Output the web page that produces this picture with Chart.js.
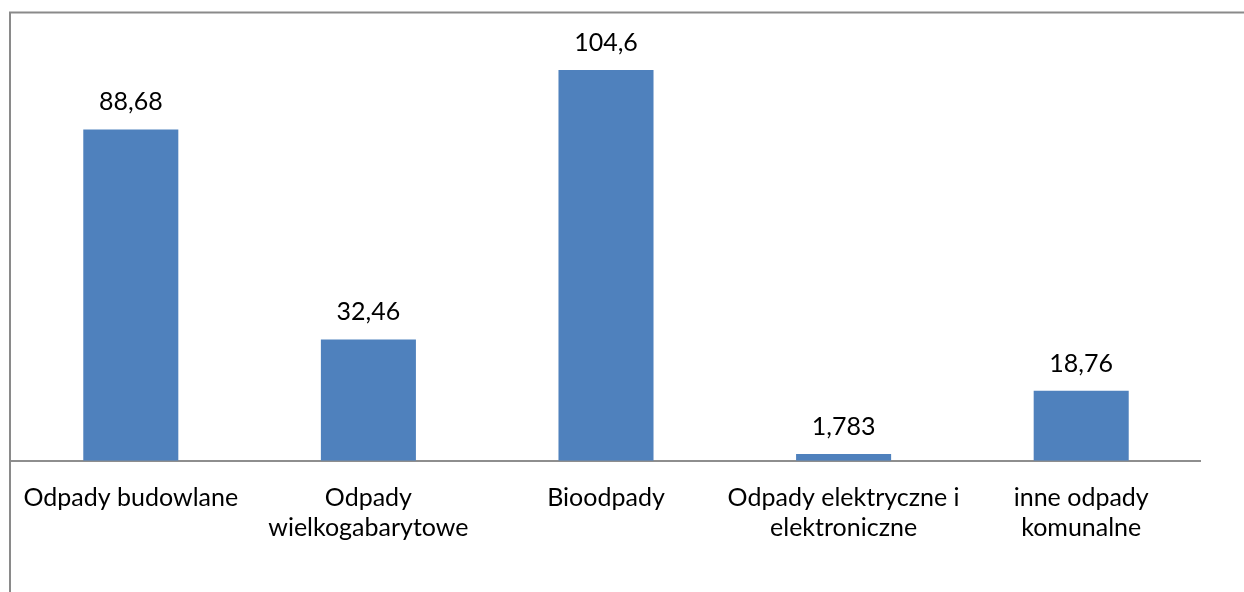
<!DOCTYPE html>
<html>
<head>
<meta charset="utf-8">
<script src="https://cdn.jsdelivr.net/npm/chart.js@4"></script>
<style>
  html, body { margin: 0; padding: 0; background: #fff; }
  #wrap { width: 1244px; height: 592px; position: relative; }
</style>
</head>
<body>
<div id="wrap"><canvas id="wasteChart"></canvas></div>
<script>
// === Data ===
const categories = [
  ["Odpady budowlane"],
  ["Odpady", "wielkogabarytowe"],
  ["Bioodpady"],
  ["Odpady elektryczne i", "elektroniczne"],
  ["inne odpady", "komunalne"]
];
const values = [88.68, 32.46, 104.6, 1.783, 18.76];
const yMax = 120;

const FONT = { family: "Lato, 'Noto Sans', sans-serif", size: 25 };

// === Outer frame (left + top visible) ===
const framePlugin = {
  id: "frame",
  beforeDraw(chart) {
    const ctx = chart.ctx;
    ctx.save();
    ctx.strokeStyle = "#8a8a8a";
    ctx.lineWidth = 2;
    ctx.strokeRect(10, 12.5, 2000, 2000);
    ctx.restore();
  }
};

// === Value labels above bars ===
const valueLabels = {
  id: "valueLabels",
  afterDatasetsDraw(chart) {
    const ctx = chart.ctx;
    const meta = chart.getDatasetMeta(0);
    ctx.save();
    ctx.font = `${FONT.size}px ${FONT.family}`;
    ctx.fillStyle = "#000";
    ctx.textAlign = "center";
    ctx.textBaseline = "alphabetic";
    meta.data.forEach((bar, i) => {
      const txt = String(values[i]).replace(".", ",");
      ctx.fillText(txt, bar.x, bar.y - 19);
    });
    ctx.restore();
  }
};

const ctx = document.getElementById("wasteChart").getContext("2d");
new Chart(ctx, {
  type: "bar",
  data: {
    labels: categories,
    datasets: [{
      data: values,
      backgroundColor: "#4f81bd",
      barPercentage: 0.4,
      categoryPercentage: 1.0
    }]
  },
  options: {
    responsive: true,
    maintainAspectRatio: false,
    animation: false,
    layout: { padding: { left: 12, right: 44, top: 12.5, bottom: 0 } },
    plugins: {
      legend: { display: false },
      tooltip: { enabled: false }
    },
    scales: {
      x: {
        grid: { display: false, drawTicks: false },
        border: { display: true, color: "#8e8e8e", width: 2 },
        ticks: {
          color: "#000",
          font: FONT,
          padding: 22,
          maxRotation: 0,
          autoSkip: false
        },
        afterFit(scale) { scale.height = 131.3; }
      },
      y: {
        display: false,
        min: 0,
        max: yMax
      }
    }
  },
  plugins: [framePlugin, valueLabels]
});
</script>
</body>
</html>
